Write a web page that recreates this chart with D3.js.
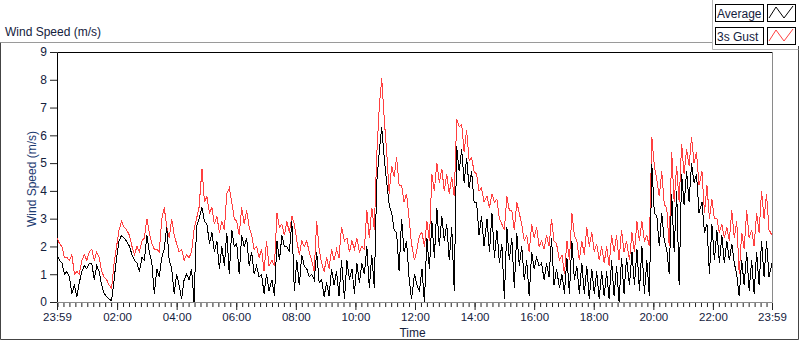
<!DOCTYPE html>
<html>
<head>
<meta charset="utf-8">
<script src="https://cdn.jsdelivr.net/npm/d3@7"></script>
<style>
  body { margin: 0; background: #fff; }
  svg { display: block; font-family: "Liberation Sans", Arial, sans-serif; }
</style>
</head>
<body>
<svg id="chart" width="800" height="342"></svg>
<script>
// y axis ticks (m/s)
const yTicks = [0, 1, 2, 3, 4, 5, 6, 7, 8, 9];
// x axis tick labels, 23:59 -> 23:59 the next day
const xTickLabels = ["23:59", "02:00", "04:00", "06:00", "08:00", "10:00", "12:00",
    "14:00", "16:00", "18:00", "20:00", "22:00", "23:59"];
const seriesNames = ["Average", "3s Gust"];
const spanMinutes = 1440;

// 3s gust
const gust = [
    2.3, 2.1, 2.0, 1.6, 1.6, 1.5, 1.7, 1.0, 1.1, 1.0, 1.5, 1.7, 1.5, 1.8, 1.9, 1.5,
    1.8, 1.6, 1.1, 0.9, 0.8, 0.6, 0.5, 1.4, 2.0, 2.6, 2.9, 2.7, 2.6, 2.4, 2.0, 1.7,
    2.0, 1.8, 2.2, 2.3, 3.0, 2.5, 2.1, 1.9, 1.9, 1.8, 3.0, 3.4, 2.7, 2.3, 3.0, 2.4,
    2.1, 1.8, 1.9, 1.5, 1.7, 1.6, 1.8, 2.6, 3.0, 3.4, 4.8, 3.6, 3.8, 3.2, 3.4, 2.8,
    3.1, 2.5, 2.9, 2.6, 3.9, 4.1, 3.6, 3.0, 2.9, 2.4, 3.4, 2.8, 3.3, 2.7, 2.4, 1.9,
    2.0, 1.6, 1.9, 1.1, 2.2, 1.3, 1.5, 1.3, 3.2, 2.7, 2.8, 2.4, 2.9, 2.5, 3.1, 2.8,
    2.2, 1.7, 2.2, 2.0, 2.2, 1.8, 1.5, 1.1, 2.9, 1.9, 1.4, 1.1, 1.6, 1.2, 1.9, 1.5,
    1.9, 1.6, 2.7, 2.2, 2.3, 1.8, 2.2, 1.9, 2.3, 1.8, 2.0, 1.9, 3.3, 2.3, 3.4, 2.6,
    5.3, 7.0, 8.05, 6.6, 5.4, 3.9, 4.9, 4.5, 5.2, 4.2, 4.2, 3.6, 3.9, 3.0, 2.1, 1.5,
    1.9, 2.4, 2.5, 2.0, 2.9, 2.2, 4.6, 4.0, 5.0, 4.3, 4.8, 4.0, 4.6, 3.9, 4.5, 3.8,
    6.6, 6.3, 6.4, 5.4, 6.2, 5.1, 5.2, 4.7, 4.6, 4.0, 4.1, 3.6, 3.8, 3.4, 3.9, 3.6,
    3.7, 3.0, 2.8, 2.6, 3.8, 3.3, 3.3, 2.6, 3.6, 3.2, 2.8, 2.2, 2.4, 1.8, 2.8, 2.3,
    2.7, 2.0, 2.2, 1.9, 2.4, 2.0, 3.0, 2.2, 2.1, 1.5, 1.7, 1.0, 2.2, 1.5, 3.2, 2.4,
    2.2, 1.5, 2.2, 1.7, 2.7, 2.0, 2.5, 1.8, 2.1, 1.5, 2.0, 1.4, 2.0, 1.3, 2.4, 1.8,
    2.4, 1.5, 2.6, 1.8, 2.2, 1.5, 2.5, 1.8, 2.9, 2.2, 2.9, 2.2, 2.4, 2.0, 5.95, 4.9,
    4.4, 3.8, 4.7, 3.5, 3.4, 2.0, 5.4, 3.6, 4.9, 3.6, 5.7, 4.6, 5.5, 4.9, 5.95, 5.0,
    5.4, 4.2, 4.7, 3.2, 4.2, 3.0, 3.7, 3.0, 3.0, 2.5, 2.8, 2.3, 2.7, 2.2, 3.3, 2.3,
    2.9, 1.0, 2.5, 1.9, 3.3, 2.3, 2.6, 2.0, 3.2, 2.5, 4.0, 3.0, 3.9, 2.6, 2.4
];

// average wind speed
const average = [
    1.7, 1.5, 1.4, 1.0, 1.1, 0.9, 0.3, 0.6, 0.2, 0.7, 1.1, 1.3, 1.2, 1.4, 1.4, 0.8,
    1.3, 1.1, 0.6, 0.3, 0.2, 0.1, 0.05, 0.8, 1.6, 2.2, 2.4, 2.3, 2.2, 2.0, 1.7, 1.5,
    1.4, 1.1, 1.6, 1.5, 2.4, 1.8, 1.4, 0.3, 1.2, 0.9, 1.6, 1.9, 2.7, 1.5, 1.2, 0.3,
    1.0, 0.6, 0.1, 0.8, 1.0, 0.8, 1.2, 0.0, 2.7, 3.0, 3.4, 2.9, 2.8, 2.1, 2.5, 1.8,
    2.2, 1.2, 2.0, 1.3, 2.5, 1.0, 2.6, 2.0, 2.1, 1.0, 2.4, 2.0, 2.3, 1.3, 1.8, 1.0,
    1.3, 0.9, 1.0, 0.3, 1.0, 0.4, 0.8, 0.2, 2.2, 1.5, 2.4, 2.0, 2.0, 1.8, 2.9, 0.4,
    1.5, 0.6, 1.7, 1.3, 1.2, 0.9, 1.0, 0.8, 1.8, 0.7, 0.8, 0.2, 0.7, 0.2, 1.2, 0.6,
    1.1, 0.2, 1.5, 0.1, 1.5, 0.8, 1.2, 0.3, 1.4, 0.7, 1.4, 1.0, 2.0, 0.5, 1.7, 0.5,
    4.3, 5.4, 6.3, 5.2, 4.3, 3.5, 3.2, 2.6, 2.5, 1.1, 3.0, 1.8, 2.2, 0.9, 0.1, 1.0,
    0.6, 0.4, 1.2, 0.0, 2.3, 1.2, 2.9, 1.6, 3.4, 2.0, 3.1, 2.2, 2.8, 1.5, 2.7, 0.4,
    5.6, 4.7, 5.5, 4.3, 5.2, 4.1, 4.7, 3.6, 3.6, 2.4, 3.1, 2.0, 3.0, 1.8, 3.2, 1.6,
    2.6, 1.4, 2.1, 0.1, 2.7, 1.5, 2.3, 0.5, 2.5, 1.3, 2.0, 0.8, 1.5, 0.2, 1.8, 1.2,
    1.6, 1.3, 1.4, 0.8, 1.4, 0.9, 2.3, 0.6, 1.2, 0.5, 1.0, 0.3, 1.6, 0.3, 2.2, 0.8,
    1.3, 0.3, 1.4, 0.3, 1.3, 0.1, 1.2, 0.3, 1.1, 0.1, 1.1, 0.2, 1.1, 0.1, 1.5, 0.2,
    1.3, 0.0, 1.6, 0.3, 1.6, 0.6, 1.8, 0.6, 1.9, 0.4, 2.0, 0.3, 1.5, 0.2, 4.95, 3.2,
    3.1, 2.0, 3.2, 2.2, 1.9, 1.0, 3.9, 1.8, 4.0, 0.6, 4.6, 3.5, 4.7, 3.6, 5.0, 4.3,
    4.6, 3.2, 3.6, 2.5, 2.8, 1.0, 2.8, 1.5, 2.6, 1.4, 2.4, 1.4, 2.2, 1.5, 2.1, 1.4,
    1.0, 0.2, 1.5, 0.6, 1.8, 0.4, 1.5, 0.3, 1.8, 0.6, 2.2, 0.9, 2.2, 0.9, 1.4
];

const svg = d3.select("#chart");
const textColor = "#14213d";

const plotLeft = 57, plotRight = 772, plotTop = 52, plotBottom = 302;

const startTime = new Date(2016, 0, 1, 23, 59);
const endTime = d3.timeMinute.offset(startTime, spanMinutes);

const x = d3.scaleTime().domain([startTime, endTime]).range([plotLeft, plotRight]);
const y = d3.scaleLinear().domain([0, 9]).range([plotBottom, plotTop]);

// time of each sample, spread evenly over the day
function sampleTime(i, n) {
    return d3.timeMinute.offset(startTime, i * spanMinutes / (n - 1));
}

// tick label -> date within the 23:59..23:59 window
function labelTime(label, i) {
    if (i === xTickLabels.length - 1) return endTime;
    const [h, m] = label.split(":").map(Number);
    const offset = ((h * 60 + m) - (23 * 60 + 59) + 1440) % 1440;
    return d3.timeMinute.offset(startTime, offset);
}
const majorTicks = xTickLabels.map(labelTime);
const minorTicks = d3.timeMinute.every(12).range(startTime, endTime);

// outer frame
svg.append("path")
    .attr("d", `M0.5,42.5 H712`)
    .attr("stroke", "#9a9a9a").attr("fill", "none");
svg.append("path")
    .attr("d", `M0.5,42.5 V339.5 H798.5 V46`)
    .attr("stroke", "#444").attr("fill", "none");

// chart title
svg.append("text")
    .attr("x", 5).attr("y", 36)
    .attr("font-size", 12)
    .attr("fill", textColor)
    .text("Wind Speed (m/s)");

// plot area borders
svg.append("path")
    .attr("d", `M${plotLeft + 0.5},${plotBottom} V${plotTop + 0.5} H${plotRight + 0.5}`)
    .attr("stroke", "#000").attr("fill", "none");
svg.append("path")
    .attr("d", `M${plotRight + 0.5},${plotTop + 0.5} V${plotBottom + 0.5} H${plotLeft}`)
    .attr("stroke", "#8a8a8a").attr("fill", "none");

// traces (aliased 1px, like the instrument display)
const line = d3.line()
    .x((d, i, arr) => x(sampleTime(i, arr.length)))
    .y(d => y(d));

svg.append("path")
    .datum(gust)
    .attr("d", line)
    .attr("fill", "none")
    .attr("stroke", "#ff4040")
    .attr("stroke-width", 1)
    .attr("shape-rendering", "crispEdges");

svg.append("path")
    .datum(average)
    .attr("d", line)
    .attr("fill", "none")
    .attr("stroke", "#000")
    .attr("stroke-width", 1)
    .attr("shape-rendering", "crispEdges");

// y axis
const yAxis = svg.append("g")
    .attr("transform", `translate(${plotLeft},0)`)
    .call(d3.axisLeft(y).tickValues(yTicks).tickSize(7).tickPadding(3));
yAxis.select(".domain").remove();
yAxis.selectAll("line").attr("stroke", "#222");
yAxis.selectAll("text")
    .attr("font-size", 12)
    .attr("font-family", "Liberation Sans, Arial, sans-serif")
    .attr("fill", textColor);

// x axis, minor ticks then major
const xMinor = svg.append("g")
    .attr("transform", `translate(0,${plotBottom + 1})`)
    .call(d3.axisBottom(x).tickValues(minorTicks).tickSize(4).tickFormat(""));
xMinor.select(".domain").remove();
xMinor.selectAll("line").attr("stroke", "#222");

const xAxis = svg.append("g")
    .attr("transform", `translate(0,${plotBottom + 1})`)
    .call(d3.axisBottom(x).tickValues(majorTicks).tickSize(7).tickPadding(3)
        .tickFormat((d, i) => xTickLabels[i]));
xAxis.select(".domain").remove();
xAxis.selectAll("line").attr("stroke", "#222");
xAxis.selectAll("text")
    .attr("font-size", 11.5)
    .attr("font-family", "Liberation Sans, Arial, sans-serif")
    .attr("fill", textColor);

// axis titles
svg.append("text")
    .attr("transform", `translate(36,${(plotTop + plotBottom) / 2 + 2}) rotate(-90)`)
    .attr("text-anchor", "middle")
    .attr("font-size", 12)
    .attr("fill", "#1c3a70")
    .text("Wind Speed (m/s)");

svg.append("text")
    .attr("x", (plotLeft + plotRight) / 2 - 2).attr("y", 337)
    .attr("text-anchor", "middle")
    .attr("font-size", 12)
    .attr("fill", textColor)
    .text("Time");

// legend panel
const legend = svg.append("g");
legend.append("path")
    .attr("d", "M712.5,0 V49.5 H798.5")
    .attr("stroke", "#b5b5b5").attr("fill", "none");

const swatchColors = ["#000", "#ff4040"];
seriesNames.forEach((name, i) => {
    const y0 = 4 + i * 23;
    legend.append("rect")
        .attr("x", 715.5).attr("y", y0 + 0.5)
        .attr("width", 48).attr("height", 17)
        .attr("fill", "#fff").attr("stroke", "#000");
    legend.append("text")
        .attr("x", 717).attr("y", y0 + 13.5)
        .attr("font-size", 12)
        .attr("fill", textColor)
        .text(name);
    legend.append("rect")
        .attr("x", 767.5).attr("y", y0 + 0.5)
        .attr("width", 28).attr("height", 17)
        .attr("fill", "#fff").attr("stroke", "#000");
    legend.append("path")
        .attr("d", `M769,${y0 + 14} L776,${y0 + 3} L784,${y0 + 14} L793,${y0 + 2}`)
        .attr("stroke", swatchColors[i]).attr("fill", "none");
});
</script>
</body>
</html>
